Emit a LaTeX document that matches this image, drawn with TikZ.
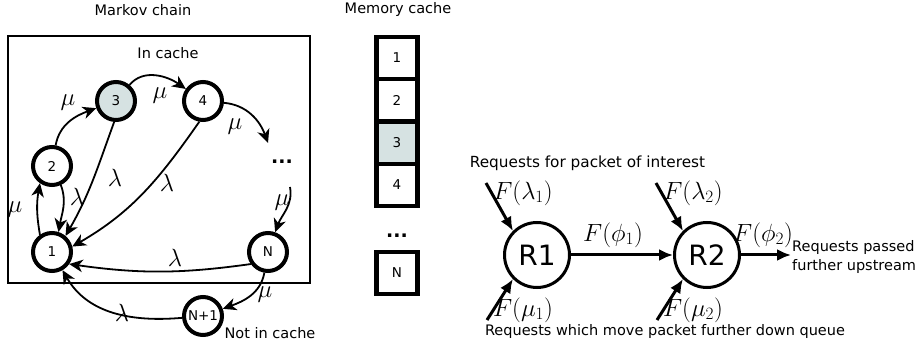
\documentclass[tikz,border=0pt]{standalone}
\usepackage[no-math]{fontspec}
\setmainfont{DejaVu Sans}
\usetikzlibrary{arrows.meta}
\definecolor{cachefill}{RGB}{214,226,226}
\begin{document}
\begin{tikzpicture}[x=1pt,y=1pt,
 txt/.style={font=\fontsize{14.5}{19}\selectfont, inner sep=0pt},
 dotsty/.style={font=\fontsize{19}{20}\selectfont\bfseries, inner sep=0pt},
 st/.style={circle,draw,line width=4pt,minimum size=38pt,inner sep=0pt,font=\fontsize{13.5}{16}\selectfont},
 tr/.style={line width=1.8pt,-{Stealth[length=13.5pt,width=12.5pt,inset=4pt]}},
 lab/.style={font=\fontsize{24}{28}\selectfont, inner sep=0pt},
 mem/.style={draw,line width=4.2pt,minimum width=41pt,minimum height=42.3pt,inner sep=0pt,font=\fontsize{13.5}{16}\selectfont},
 rt/.style={circle,draw,line width=3pt,minimum size=65pt,inner sep=0pt,font=\fontsize{28}{30}\selectfont},
 ra/.style={line width=3pt,-{Latex[length=14pt,width=12pt]}}]
\useasboundingbox (0,0) rectangle (923,345);
% ---------- Markov chain ----------
\node[txt] (tmc) at (143,335) {Markov chain};
\node[draw,line width=1.8pt,minimum width=302pt,minimum height=247pt,inner sep=0pt] (frame) at (159,185.5) {};
\node[txt] (tin) at (168,292) {In cache};
\node[st,fill=cachefill] (n3) at (116,244) {3};
\node[st] (n4) at (203,244) {4};
\node[st] (n2) at (52,179) {2};
\node[st] (n1) at (52,93) {1};
\node[st] (nN) at (268,93) {N};
\node[st] (nN1) at (203,29) {N+1};
\node[dotsty] (dots) at (282,183) {...};
\coordinate (dtop) at (268,202);
\coordinate (dbot) at (290,158);
\node[txt] (tnot) at (270,12) {Not in cache};

\draw[tr] (n2) to[out=80,in=200] (n3);
\node[lab] (l23) at (68,242) {$\mu$};
\draw[tr] (n3) to[out=50,in=145] (n4);
\node[lab] (l34) at (160,249) {$\mu$};
\draw[tr] (n4.-5) to[out=-5,in=110] (dtop);
\node[lab] (l4d) at (235,218) {$\mu$};
\draw[tr] (dbot) to[out=-80,in=70] (nN);
\node[lab] (ldN) at (282,142) {$\mu$};
\draw[tr] (nN) to[out=-100,in=20] (nN1);
\node[lab] (lNN1) at (265,50) {$\mu$};
\draw[tr] (nN1) to[out=185,in=-60] (n1);
\node[lab] (lN11) at (122,32) {$\lambda$};
\draw[tr] (nN.215) to[out=188,in=-8] (n1.-35);
\node[lab] (lN1) at (175,87) {$\lambda$};
\draw[tr] (n4.260) to[out=235,in=30] (n1.15);
\node[lab] (l41) at (167,162) {$\lambda$};
\draw[tr] (n3.265) to[out=250,in=60] (n1.50);
\node[lab] (l31) at (115,167) {$\lambda$};
\draw[tr] (n2.-65) to[out=-70,in=80] (n1.72);
\node[lab] (l21) at (77,148) {$\lambda$};
\draw[tr] (n1.125) to[out=100,in=-100] (n2.235);
\node[lab] (l12) at (15,135) {$\mu$};

% ---------- Memory cache ----------
\node[txt] (tmem) at (398,335) {Memory cache};
\node[mem] (m1) at (397,287) {1};
\node[mem] (m2) at (397,244.7) {2};
\node[mem,fill=cachefill] (m3) at (397,202.4) {3};
\node[mem] (m4) at (397,160.1) {4};
\node[dotsty] (mdots) at (397,109) {...};
\node[mem,minimum height=42pt] (mN) at (397,72) {N};

% ---------- Routers ----------
\node[rt] (R1) at (537,90) {R1};
\node[rt] (R2) at (707,90) {R2};
\coordinate (l1s) at (486,162);
\coordinate (l2s) at (656,162);
\coordinate (u1s) at (487,25);
\coordinate (u2s) at (657,25);
\coordinate (outp) at (791,90);
\draw[ra] (l1s) -- (R1.135);
\draw[ra] (l2s) -- (R2.135);
\draw[ra] (u1s) -- (R1.225);
\draw[ra] (u2s) -- (R2.225);
\draw[ra] (R1) -- (R2);
\draw[ra] (R2) -- (outp);
\node[lab] (fl1) at (523,152) {$F(\lambda_1)$};
\node[lab] (fl2) at (693,152) {$F(\lambda_2)$};
\node[lab] (fp1) at (613,110) {$F(\phi_1)$};
\node[lab] (fp2) at (763,110) {$F(\phi_2)$};
\node[lab] (fm1) at (523,35) {$F(\mu_1)$};
\node[lab] (fm2) at (693,35) {$F(\mu_2)$};
\node[txt,font=\fontsize{15.3}{19}\selectfont] (treq) at (587.5,182) {Requests for packet of interest};
\node[txt] (tmove) at (665,13) {Requests which move packet further down queue};
\node[txt,anchor=west,align=left] (tpass) at (792,87.5) {Requests passed\\further upstream};
\end{tikzpicture}
\end{document}
